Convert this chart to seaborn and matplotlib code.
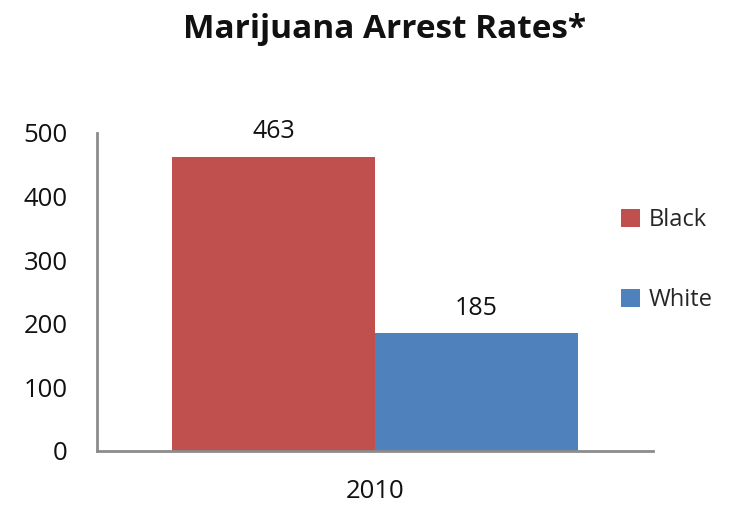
import pandas as pd
import matplotlib
matplotlib.use('Agg')
import matplotlib.pyplot as plt
import seaborn as sns
from matplotlib.patches import Patch

# Datos del gráfico
years = ['2010']
groups = ['Black', 'White']
rates = [463, 185]
colors = ['#C0504D', '#4F81BD']

df = pd.DataFrame({'year': years * len(groups), 'group': groups, 'rate': rates})

sns.set_style('white')
plt.rcParams['font.family'] = ['Open Sans', 'DejaVu Sans']

fig = plt.figure(figsize=(7.33, 5.05), dpi=100)
ax = fig.add_axes([97 / 733, 1 - 451 / 505, (653 - 97) / 733, (451 - 133) / 505])

sns.barplot(data=df, x='year', y='rate', hue='group', hue_order=groups,
            palette=colors, width=0.73, saturation=1, linewidth=0,
            ax=ax, legend=False)

for cont in ax.containers:
    ax.bar_label(cont, padding=9, fontsize=18, color='#111111')

ax.set_xlim(-0.5, 0.5)
ax.set_ylim(0, 500)
ax.set_yticks([0, 100, 200, 300, 400, 500])
ax.tick_params(axis='both', length=0, labelsize=18.5, colors='#111111')
ax.tick_params(axis='y', pad=21)
ax.tick_params(axis='x', pad=20)
ax.set_xlabel('')
ax.set_ylabel('')

for side in ['top', 'right']:
    ax.spines[side].set_visible(False)
for side in ['left', 'bottom']:
    ax.spines[side].set_color('#8c8c8c')
    ax.spines[side].set_linewidth(2)

fig.suptitle('Marijuana Arrest Rates*', x=385 / 733, y=1 - 30 / 505, va='center',
             fontsize=24, fontweight='bold', color='#111111')

handles = [Patch(facecolor=c, edgecolor='none') for c in colors]
fig.legend(handles, groups, loc='center left', bbox_to_anchor=(600 / 733, 1 - 260 / 505),
           frameon=False, fontsize=17, handlelength=0.8, handleheight=0.8,
           handletextpad=0.35, labelspacing=2.35)

fig.savefig('out.png', dpi=100)
